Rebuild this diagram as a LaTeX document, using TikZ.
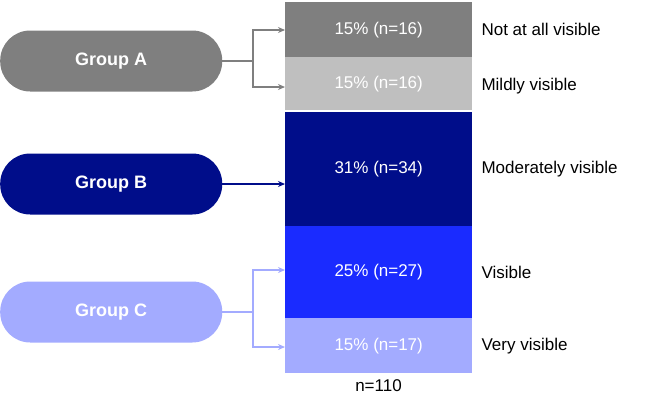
\documentclass[tikz,border=0pt]{standalone}
\usepackage{fontspec}
\setmainfont{Liberation Sans}
\usetikzlibrary{arrows.meta}
\definecolor{dg}{HTML}{7F7F7F}
\definecolor{lg}{HTML}{BFBFBF}
\definecolor{nv}{HTML}{000D8A}
\definecolor{bl}{HTML}{1A2BFF}
\definecolor{lb}{HTML}{A3ABFF}
\begin{document}
\begin{tikzpicture}[x=1pt,y=-1pt,
 seg/.style={draw=none,minimum width=187pt,inner sep=0pt,anchor=north west,text=white,font=\fontsize{17}{20}\selectfont},
 grp/.style={rounded corners=30pt,minimum width=222pt,minimum height=61pt,anchor=west,inner sep=0pt,text=white,font=\bfseries\fontsize{18}{21}\selectfont},
 lab/.style={anchor=west,font=\fontsize{17}{20}\selectfont},
 con/.style={line width=1.2pt,-{Stealth[length=7pt,width=6pt]}}]
\useasboundingbox (0,0) rectangle (663,400);
\node[seg,fill=dg,minimum height=55pt] (s1) at (285,2) {15\% (n=16)};
\node[seg,fill=lg,minimum height=53pt] (s2) at (285,57) {15\% (n=16)};
\node[seg,fill=nv,minimum height=114pt] (s3) at (285,112) {31\% (n=34)};
\node[seg,fill=bl,minimum height=92pt] (s4) at (285,226) {25\% (n=27)};
\node[seg,fill=lb,minimum height=55pt] (s5) at (285,318) {15\% (n=17)};
\node[font=\fontsize{17}{20}\selectfont] (n) at (378.5,386) {n=110};
\node[lab] (l1) at (478,29.5) {Not at all visible};
\node[lab] (l2) at (478,86) {Mildly visible};
\node[lab] (l3) at (478,169) {Moderately visible};
\node[lab] (l4) at (478,272) {Visible};
\node[lab] (l5) at (478,346) {Very visible};
\node[grp,fill=dg] (ga) at (0,61) {Group A};
\node[grp,fill=nv] (gb) at (0,184) {Group B};
\node[grp,fill=lb] (gc) at (0,312) {Group C};
\coordinate (ja) at (253,61);
\coordinate (jc) at (253,312);
\draw[dg,line width=1.2pt] (ga.east) -- (ja);
\draw[dg,con] (ja) |- (s1.west |- 0,30);
\draw[dg,con] (ja) |- (s2.west |- 0,87);
\draw[nv,con] (gb.east) -- (s3.west |- gb.east);
\draw[lb,line width=1.2pt] (gc.east) -- (jc);
\draw[lb,con] (jc) |- (s4.west |- 0,270);
\draw[lb,con] (jc) |- (s5.west |- 0,347);
\end{tikzpicture}
\end{document}
